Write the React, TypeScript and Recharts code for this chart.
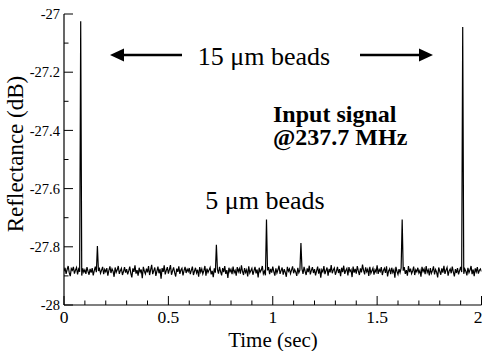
import React from 'react';
import { LineChart, Line, XAxis, YAxis, Customized } from 'recharts';

// sampling step of the trace (sec)
const STEP = 0.005;

// Reflectance (dB) trace, one value per STEP
const reflectance: number[] = [
  -27.884, -27.872, -27.893, -27.878, -27.866, -27.889, -27.901, -27.875, -27.881, -27.869, -27.892, -27.880, -27.871, -27.895, -27.877, -27.886, -27.025, -27.899, -27.874, -27.887,
  -27.879, -27.893, -27.870, -27.884, -27.896, -27.876, -27.889, -27.873, -27.898, -27.882, -27.868, -27.887, -27.797, -27.883, -27.875, -27.891, -27.880, -27.869, -27.894, -27.878,
  -27.886, -27.873, -27.899, -27.881, -27.867, -27.890, -27.876, -27.884, -27.903, -27.871, -27.888, -27.879, -27.866, -27.893, -27.882, -27.874, -27.897, -27.885, -27.870, -27.889,
  -27.877, -27.895, -27.883, -27.868, -27.891, -27.905, -27.874, -27.886, -27.864, -27.892, -27.880, -27.899, -27.872, -27.887, -27.878, -27.908, -27.869, -27.884, -27.893, -27.875,
  -27.888, -27.866, -27.897, -27.879, -27.862, -27.894, -27.882, -27.871, -27.900, -27.884, -27.868, -27.891, -27.876, -27.910, -27.873, -27.886, -27.864, -27.895, -27.881, -27.870,
  -27.892, -27.878, -27.863, -27.896, -27.883, -27.871, -27.889, -27.902, -27.875, -27.886, -27.867, -27.893, -27.880, -27.874, -27.898, -27.882, -27.869, -27.890, -27.877, -27.885,
  -27.873, -27.894, -27.881, -27.868, -27.897, -27.884, -27.872, -27.890, -27.879, -27.903, -27.870, -27.887, -27.876, -27.893, -27.882, -27.866, -27.899, -27.875, -27.888, -27.880,
  -27.871, -27.895, -27.883, -27.904, -27.874, -27.889, -27.793, -27.878, -27.892, -27.869, -27.885, -27.898, -27.873, -27.887, -27.866, -27.893, -27.880, -27.907, -27.872, -27.886,
  -27.877, -27.894, -27.868, -27.889, -27.881, -27.899, -27.870, -27.886, -27.875, -27.892, -27.864, -27.884, -27.897, -27.873, -27.888, -27.879, -27.902, -27.867, -27.890, -27.882,
  -27.874, -27.896, -27.883, -27.869, -27.891, -27.878, -27.905, -27.872, -27.887, -27.880, -27.866, -27.893, -27.884, -27.898, -27.706, -27.881, -27.870, -27.894, -27.876, -27.889,
  -27.868, -27.885, -27.899, -27.874, -27.890, -27.879, -27.865, -27.893, -27.882, -27.871, -27.896, -27.877, -27.888, -27.903, -27.869, -27.884, -27.876, -27.892, -27.880, -27.867,
  -27.891, -27.878, -27.886, -27.900, -27.872, -27.889, -27.880, -27.787, -27.876, -27.893, -27.869, -27.884, -27.897, -27.874, -27.887, -27.865, -27.895, -27.881, -27.870, -27.890,
  -27.877, -27.898, -27.883, -27.868, -27.892, -27.875, -27.906, -27.879, -27.886, -27.866, -27.894, -27.882, -27.871, -27.899, -27.876, -27.888, -27.863, -27.891, -27.880, -27.873,
  -27.896, -27.884, -27.869, -27.890, -27.877, -27.901, -27.872, -27.887, -27.865, -27.893, -27.881, -27.874, -27.898, -27.870, -27.885, -27.879, -27.904, -27.868, -27.889, -27.876,
  -27.892, -27.866, -27.883, -27.897, -27.874, -27.888, -27.861, -27.880, -27.895, -27.871, -27.886, -27.877, -27.900, -27.869, -27.891, -27.882, -27.873, -27.896, -27.879, -27.887,
  -27.864, -27.893, -27.878, -27.885, -27.870, -27.897, -27.881, -27.874, -27.890, -27.867, -27.902, -27.883, -27.876, -27.894, -27.872, -27.888, -27.879, -27.906, -27.869, -27.884,
  -27.895, -27.877, -27.889, -27.873, -27.706, -27.882, -27.870, -27.893, -27.880, -27.899, -27.866, -27.887, -27.875, -27.892, -27.883, -27.868, -27.897, -27.879, -27.886, -27.872,
  -27.890, -27.881, -27.903, -27.869, -27.885, -27.876, -27.894, -27.866, -27.888, -27.879, -27.898, -27.873, -27.891, -27.882, -27.867, -27.895, -27.878, -27.887, -27.905, -27.871,
  -27.884, -27.896, -27.874, -27.889, -27.865, -27.893, -27.880, -27.871, -27.899, -27.883, -27.876, -27.891, -27.868, -27.886, -27.902, -27.877, -27.890, -27.873, -27.895, -27.882,
  -27.869, -27.887, -27.045, -27.893, -27.876, -27.884, -27.898, -27.872, -27.889, -27.880, -27.866, -27.894, -27.878, -27.901, -27.874, -27.886, -27.870, -27.892, -27.881, -27.876,
  -27.885,
];

// axis ticks (all tick marks) and the ones that carry a label
const xTicks = [0, 0.1, 0.2, 0.3, 0.4, 0.5, 0.6, 0.7, 0.8, 0.9, 1, 1.1, 1.2, 1.3, 1.4, 1.5, 1.6, 1.7, 1.8, 1.9, 2];
const xLabelTicks = [0, 0.5, 1, 1.5, 2];
const yTicks = [-28, -27.9, -27.8, -27.7, -27.6, -27.5, -27.4, -27.3, -27.2, -27.1, -27];
const yLabelTicks = [-28, -27.8, -27.6, -27.4, -27.2, -27];

const xTitle = 'Time (sec)';
const yTitle = 'Reflectance (dB)';
const bigBeadsLabel = '15 \u03bcm beads';
const smallBeadsLabel = '5 \u03bcm beads';
const signalLines = ['Input signal', '@237.7 MHz'];

const data = reflectance.map((r, i) => ({ time: Number((i * STEP).toFixed(3)), r }));

const FONT = "'Liberation Serif', 'Times New Roman', serif";
const MAJOR = 9;
const MINOR = 4.5;

const isIn = (arr: number[], v: number) => arr.some((a) => Math.abs(a - v) < 1e-6);

const BottomTick = (props: any) => {
  const { x, y, payload } = props;
  const major = isIn(xLabelTicks, payload.value);
  const last = Math.abs(payload.value - xLabelTicks[xLabelTicks.length - 1]) < 1e-6;
  return (
    <g>
      <line x1={x} x2={x} y1={y} y2={y - (major ? MAJOR : MINOR)} stroke="#000" strokeWidth={1} />
      {major && (
        <text
          x={last ? x - 3.5 : x}
          y={y + 18}
          textAnchor="middle"
          fontSize={17.5}
          style={{ fontFamily: FONT }}
          fill="#000"
        >
          {String(payload.value)}
        </text>
      )}
    </g>
  );
};

const TopTick = (props: any) => {
  const { x, y, payload } = props;
  const major = isIn(xLabelTicks, payload.value);
  return <line x1={x} x2={x} y1={y} y2={y + (major ? MAJOR : MINOR)} stroke="#000" strokeWidth={1} />;
};

const LeftTick = (props: any) => {
  const { x, y, payload } = props;
  const major = isIn(yLabelTicks, payload.value);
  return (
    <g>
      <line x1={x} x2={x + (major ? MAJOR : MINOR)} y1={y} y2={y} stroke="#000" strokeWidth={1} />
      {major && (
        <text x={x - 4} y={y} dy="0.36em" textAnchor="end" fontSize={14.5} style={{ fontFamily: FONT }} fill="#000">
          {String(payload.value)}
        </text>
      )}
    </g>
  );
};

const RightTick = (props: any) => {
  const { x, y, payload } = props;
  const major = isIn(yLabelTicks, payload.value);
  return <line x1={x} x2={x - (major ? MAJOR : MINOR)} y1={y} y2={y} stroke="#000" strokeWidth={1} />;
};

const Annotations = () => (
  <g style={{ fontFamily: FONT }} fill="#000">
    {/* left arrow */}
    <line x1={121} x2={182} y1={55} y2={55} stroke="#000" strokeWidth={2.5} />
    <polygon points="110,55 124,48.5 124,61.5" fill="#000" />
    {/* right arrow */}
    <line x1={360} x2={422} y1={55} y2={55} stroke="#000" strokeWidth={2.5} />
    <polygon points="433,55 419,48.5 419,61.5" fill="#000" />
    <text x={264} y={65} textAnchor="middle" fontSize={26}>{bigBeadsLabel}</text>
    <text x={265} y={209} textAnchor="middle" fontSize={26}>{smallBeadsLabel}</text>
    <text x={273} y={121.5} fontSize={24} fontWeight="bold">{signalLines[0]}</text>
    <text x={273} y={145} fontSize={24} fontWeight="bold">{signalLines[1]}</text>
    <text x={273} y={347} textAnchor="middle" fontSize={21}>{xTitle}</text>
    <text x={22.5} y={154} textAnchor="middle" fontSize={23} transform="rotate(-90, 22.5, 154)">{yTitle}</text>
  </g>
);

export default function App() {
  return (
    <div style={{ position: 'absolute', left: 0, top: 0, background: '#fff' }}>
      <LineChart width={483} height={351} data={data} margin={{ top: 14, right: 1.5, left: 0, bottom: 0 }}>
        <XAxis
          dataKey="time"
          type="number"
          domain={[0, 2]}
          ticks={xTicks}
          interval={0}
          height={46}
          tickSize={0}
          tickMargin={0}
          tickLine={false}
          tick={BottomTick}
          axisLine={{ stroke: '#000', strokeWidth: 1.2 }}
          allowDataOverflow
        />
        <XAxis
          xAxisId="top"
          orientation="top"
          dataKey="time"
          type="number"
          domain={[0, 2]}
          ticks={xTicks}
          interval={0}
          height={0}
          tickSize={0}
          tickMargin={0}
          tickLine={false}
          tick={TopTick}
          axisLine={{ stroke: '#000', strokeWidth: 1.2 }}
          allowDataOverflow
        />
        <YAxis
          type="number"
          domain={[-28, -27]}
          ticks={yTicks}
          interval={0}
          width={64}
          tickSize={0}
          tickMargin={0}
          tickLine={false}
          tick={LeftTick}
          axisLine={{ stroke: '#000', strokeWidth: 1.2 }}
          allowDataOverflow
        />
        <YAxis
          yAxisId="right"
          orientation="right"
          type="number"
          domain={[-28, -27]}
          ticks={yTicks}
          interval={0}
          width={0}
          tickSize={0}
          tickMargin={0}
          tickLine={false}
          tick={RightTick}
          axisLine={{ stroke: '#000', strokeWidth: 1.2 }}
          allowDataOverflow
        />
        <Line
          dataKey="r"
          type="linear"
          stroke="#000"
          strokeWidth={1.2}
          dot={false}
          activeDot={false}
          isAnimationActive={false}
        />
        <Customized component={Annotations} />
      </LineChart>
    </div>
  );
}
